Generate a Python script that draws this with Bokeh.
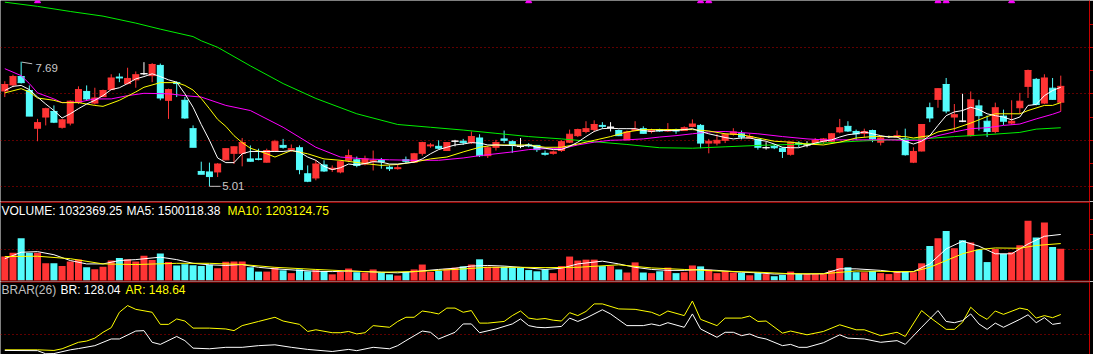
from bokeh.plotting import figure
from bokeh.models import Range1d, ColumnDataSource, Span, Label, LinearAxis, FixedTicker, Grid
from bokeh.layouts import column
from bokeh.embed import file_html
from bokeh.resources import INLINE

# ---------------- data ----------------
opens = [7.06,7.19,7.37,7.07,6.26,6.50,6.62,6.28,6.37,6.82,7.05,6.80,6.94,7.09,7.36,7.22,7.30,7.43,7.39,7.61,
         6.86,7.24,6.86,6.25,5.33,5.32,5.32,5.58,5.72,5.72,5.60,5.60,5.53,5.78,5.89,5.80,5.84,5.28,5.19,5.47,
         5.38,5.32,5.57,5.58,5.49,5.54,5.57,5.42,5.39,5.58,5.53,5.72,5.88,5.87,5.78,5.98,5.98,5.95,6.05,5.67,
         5.85,6.03,5.97,5.873,5.90,5.89,5.72,5.72,5.78,5.96,6.10,6.19,6.23,6.32,6.28,6.21,6.01,6.21,6.25,6.19,
         6.23,6.20,6.23,6.21,6.30,6.32,5.94,5.94,6.00,6.13,6.14,6.05,6.02,5.84,5.87,5.83,5.70,5.94,5.90,5.92,
         5.97,5.98,6.18,6.30,6.19,6.15,6.21,5.96,6.08,6.07,6.03,5.53,5.77,6.70,6.88,7.20,6.50,6.413,6.10,6.74,
         6.41,6.19,6.52,6.37,6.70,7.16,7.31,6.80,7.12,6.82]
highs = [7.27,7.41,7.69,7.18,6.46,6.70,6.75,6.46,6.86,7.16,7.18,7.13,7.09,7.42,7.44,7.56,7.48,7.68,7.66,7.65,
         7.11,7.27,6.93,6.32,5.54,5.52,5.51,5.83,5.87,6.05,5.89,5.82,5.82,6.01,6.03,5.91,5.89,5.46,5.57,5.57,
         5.46,5.57,5.80,5.65,5.67,5.78,5.62,5.46,5.49,5.65,5.73,5.97,5.94,6.00,5.96,6.01,6.03,6.19,6.13,5.87,
         6.01,6.21,6.00,6.05,5.94,5.90,5.78,5.78,6.00,6.23,6.25,6.41,6.43,6.39,6.39,6.23,6.21,6.41,6.30,6.25,
         6.25,6.37,6.25,6.30,6.45,6.35,6.03,6.14,6.15,6.26,6.21,6.14,6.03,5.96,5.92,5.85,5.97,5.98,5.98,6.05,
         6.05,6.15,6.46,6.41,6.23,6.25,6.23,6.10,6.10,6.21,6.25,5.85,6.35,6.81,7.12,7.34,6.78,7.00,7.05,6.87,
         6.53,6.81,6.66,6.86,7.02,7.52,7.34,7.42,7.34,7.39]
lows = [6.93,7.14,7.22,6.52,5.98,6.32,6.37,6.25,6.32,6.78,6.86,6.77,6.93,7.09,7.25,7.20,7.13,7.40,7.25,6.86,
        6.46,6.93,6.46,5.85,5.27,5.01,5.21,5.57,5.49,5.44,5.54,5.57,5.52,5.77,5.82,5.75,5.27,5.10,5.14,5.32,
        5.32,5.29,5.53,5.42,5.46,5.35,5.39,5.34,5.37,5.51,5.52,5.67,5.84,5.81,5.77,5.87,5.90,5.92,5.64,5.62,
        5.78,5.94,5.73,5.83,5.85,5.75,5.67,5.69,5.75,5.94,6.07,6.15,6.18,6.25,6.19,6.09,6.00,6.20,6.14,6.15,
        6.18,6.18,6.14,6.20,6.28,5.83,5.72,5.89,5.94,6.10,6.02,6.03,5.80,5.80,5.81,5.62,5.67,5.85,5.85,5.90,
        5.92,5.96,6.15,6.18,6.01,6.07,5.96,5.89,6.05,6.05,5.67,5.51,5.76,6.39,6.70,6.58,6.18,6.39,6.08,6.21,
        6.07,6.15,6.33,6.34,6.57,6.91,6.75,6.78,6.87,6.62]
closes = [7.20,7.37,7.24,6.52,6.38,6.68,6.39,6.44,6.84,7.09,6.89,6.91,7.07,7.34,7.34,7.33,7.41,7.432,7.63,6.91,
          7.09,7.22,6.48,5.85,5.27,5.22,5.49,5.82,5.86,5.95,5.55,5.59,5.78,5.97,5.85,5.82,5.37,5.12,5.49,5.34,
          5.40,5.54,5.67,5.46,5.60,5.57,5.54,5.39,5.41,5.55,5.71,5.95,5.90,5.83,5.95,5.982,5.95,6.08,5.67,5.84,
          5.95,6.00,5.89,5.87,5.88,5.80,5.70,5.75,5.97,6.13,6.23,6.25,6.34,6.30,6.282,6.10,6.18,6.24,6.15,6.21,
          6.20,6.23,6.20,6.27,6.35,5.94,5.98,6.00,6.13,6.18,6.07,6.08,5.85,5.842,5.84,5.76,5.96,5.91,5.902,6.00,
          6.03,6.14,6.27,6.20,6.14,6.19,6.03,6.05,6.082,6.10,5.69,5.76,6.34,6.48,7.11,6.63,6.55,6.41,6.87,6.53,
          6.19,6.70,6.41,6.41,6.84,7.50,6.77,7.34,6.88,7.16]
volumes = [0.78,0.90,1.38,0.90,0.90,0.56,0.56,0.47,0.62,0.68,0.43,0.37,0.45,0.65,0.73,0.69,0.62,0.81,0.67,0.88,
           0.60,0.49,0.53,0.50,0.47,0.51,0.40,0.61,0.62,0.62,0.43,0.29,0.29,0.42,0.33,0.24,0.36,0.30,0.34,0.31,
           0.20,0.28,0.39,0.27,0.26,0.36,0.27,0.20,0.16,0.28,0.36,0.52,0.28,0.31,0.38,0.42,0.46,0.52,0.69,0.45,
           0.45,0.45,0.43,0.41,0.34,0.30,0.36,0.24,0.47,0.78,0.65,0.68,0.68,0.47,0.47,0.36,0.26,0.59,0.26,0.24,
           0.30,0.42,0.24,0.27,0.49,0.46,0.35,0.24,0.30,0.26,0.25,0.17,0.25,0.21,0.14,0.18,0.29,0.21,0.21,0.21,
           0.21,0.33,0.73,0.43,0.27,0.27,0.31,0.24,0.21,0.30,0.30,0.27,0.56,1.12,1.38,1.61,1.05,1.31,1.24,1.00,
           0.60,1.03,0.86,0.92,1.15,1.95,1.40,1.89,1.09,1.03236925]   # millions

ma5 = [7.07,7.16,7.18,7.09,6.93,6.78,6.64,6.48,6.57,6.68,6.78,6.86,6.96,7.09,7.13,7.22,7.32,7.37,7.43,7.37,
       7.30,7.25,7.00,6.71,6.34,6.00,5.62,5.52,5.52,5.71,5.76,5.76,5.76,5.76,5.76,5.78,5.75,5.64,5.57,5.44,
       5.37,5.41,5.49,5.47,5.50,5.54,5.53,5.49,5.49,5.51,5.53,5.60,5.71,5.80,5.85,5.90,5.92,5.95,5.94,5.90,
       5.90,5.89,5.89,5.87,5.90,5.85,5.83,5.80,5.80,5.87,5.96,6.08,6.19,6.25,6.26,6.25,6.25,6.25,6.21,6.19,
       6.21,6.21,6.21,6.23,6.25,6.19,6.14,6.10,6.06,6.03,6.05,6.05,6.01,5.98,5.92,5.85,5.84,5.84,5.89,5.94,
       5.98,6.01,6.07,6.12,6.14,6.18,6.14,6.10,6.07,6.07,5.98,5.92,5.98,6.10,6.32,6.53,6.61,6.64,6.71,6.66,
       6.57,6.53,6.50,6.44,6.50,6.75,6.77,6.96,7.07,7.14]
ma10_x = [0,2,3,4,6,7,9,11,12,14,16,17,19,21,22,23,24,25,26,27,28,29,30,32,33,35,37,39,41,44,46,48,50,52,54,56,
          58,60,64,66,68,70,72,74,76,78,84,86,88,90,92,94,96,98,100,102,104,106,110,111,113,114,116,118,120,121,
          124,125,127,128,129]
ma10 = [7.02,7.11,7.04,6.91,6.86,6.81,6.81,6.75,6.73,6.86,7.04,7.14,7.24,7.24,7.18,7.08,6.90,6.68,6.45,6.30,6.10,
        5.95,5.83,5.71,5.64,5.78,5.71,5.60,5.57,5.50,5.46,5.48,5.53,5.60,5.64,5.75,5.85,5.90,5.90,5.85,5.85,5.92,
        6.00,6.08,6.18,6.23,6.23,6.20,6.14,6.12,6.05,5.98,5.96,5.92,5.90,5.96,6.05,6.08,6.08,6.05,6.10,6.18,6.25,
        6.37,6.51,6.57,6.57,6.64,6.75,6.75,6.81]
ma20_x = [0,2,3,4,6,7,9,11,13,15,17,20,22,24,27,30,34,38,41,44,47,50,53,56,58,60,62,64,66,68,70,72,74,76,78,80,
          82,84,86,88,92,95,98,100,108,110,112,114,116,118,120,122,124,126,128,129]
ma20 = [7.54,7.39,7.22,7.02,6.89,6.81,6.82,6.89,6.89,6.96,7.01,7.00,6.96,6.93,6.75,6.64,6.28,5.85,5.64,5.60,5.58,
        5.57,5.57,5.62,5.67,5.71,5.75,5.80,5.82,5.82,5.90,5.96,6.00,6.01,6.03,6.07,6.10,6.14,6.18,6.19,6.14,6.08,
        6.03,6.01,6.01,6.00,6.00,6.10,6.18,6.25,6.27,6.32,6.35,6.46,6.56,6.62]
ma60_x = [0,4,8,12,16,19,23,24,26,30,34,38,43,48,52,56,60,64,68,72,76,80,84,88,92,96,100,104,108,112,116,120,124,
          126,129]
ma60 = [8.97,8.88,8.77,8.67,8.52,8.39,8.23,8.14,8.00,7.60,7.22,6.90,6.57,6.34,6.28,6.22,6.15,6.08,6.03,5.97,5.91,
        5.84,5.83,5.86,5.89,5.91,5.94,5.98,6.01,6.03,6.08,6.12,6.17,6.24,6.27]

vma5_x = [0,2,4,6,8,10,12,14,16,19,21,23,25,27,29,31,33,36,38,40,42,44,46,48,50,53,55,57,59,61,63,66,68,70,73,75,
          77,79,81,83,85,87,90,92,94,96,98,100,102,104,107,109,111,113,115,117,119,121,123,125,127,129]
vma5 = [0.71,0.92,0.94,0.84,0.65,0.54,0.54,0.65,0.68,0.76,0.68,0.56,0.51,0.49,0.52,0.43,0.38,0.33,0.30,0.29,0.31,
        0.29,0.27,0.25,0.29,0.36,0.40,0.47,0.49,0.47,0.43,0.36,0.40,0.54,0.63,0.54,0.43,0.36,0.33,0.33,0.36,0.33,
        0.27,0.25,0.21,0.22,0.21,0.22,0.38,0.38,0.33,0.27,0.29,0.54,1.03,1.28,1.12,0.87,0.87,1.19,1.44,1.50011838]
vma10_x = [0,4,8,12,16,21,25,29,33,38,42,46,50,55,59,63,66,70,75,79,83,87,92,96,100,104,109,111,113,115,117,119,
           121,124,126,129]
vma10 = [0.78,0.79,0.71,0.54,0.52,0.56,0.56,0.52,0.43,0.36,0.31,0.27,0.29,0.36,0.43,0.43,0.42,0.43,0.51,0.41,0.36,
         0.31,0.27,0.22,0.22,0.31,0.29,0.29,0.43,0.65,0.87,1.01,1.06,1.05,1.14,1.20312475]

ar_x = [0,4,6,7,9,10,11,12,13,14,15,16,18,19,20,21,22,23,25,27,28,29,31,33,34,36,37,38,40,41,42,43,44,45,47,48,
        49,50,51,52,53,54,55,56,57,58,59,61,62,63,64,65,66,67,68,69,70,71,72,73,75,77,79,80,81,83,84,85,87,88,90,
        91,92,93,95,96,98,100,102,104,105,107,109,110,112,113,115,116,117,118,119,120,121,122,124,125,126,127,
        128,129]
ar = [64,64,62.5,66.5,82,85,92,106,117,154,170,161,154,125,125,138,133,116,116,114,110,122,132,142,133,125,108,
      112,105,105,108,102,105,122,118,132,142,142,157,154,150,164,164,154,158,128,128,132,146,157,140,137,139,135,
      133,153,146,156,174,174,162,161,154,146,157,146,181,137,122,140,140,145,132,133,104,109,100,108,124,112,112,
      98,106,96,158,142,113,113,130,166,148,137,157,149,164,160,140,146,141,148.64]
br_x = [0,4,5,6,8,9,11,12,13,14,16,17,18,19,21,22,23,25,27,29,31,33,35,37,40,42,43,45,47,48,49,51,52,53,55,56,
        57,58,60,62,63,64,65,66,68,69,70,71,73,74,76,78,79,80,81,83,84,85,87,88,89,90,91,92,93,95,96,97,98,100,
        102,103,105,107,109,110,112,114,115,116,117,118,119,120,121,122,124,125,126,127,128,129]
br = [62.5,62,54.5,55,64,67,74,82,90,90,109,110,82,77,96,86,68,66.5,70,70,74,76,70,65,60,65,62,70,66.5,74,86,109,
      106,90,106,126,126,105,114,126,138,122,118,117,120,140,132,140,160,150,122,122,126,122,129,118,150,114,94,
      106,106,98,102,94,90,74,77,70,70,81,100,92,90,82,86,77,118,158,132,129,134,150,126,113,128,118,137,148,129,
      141,125,128.04]

signal_idx = [4, 64, 85, 86, 114, 115, 123]
hi_label = "7.69"
lo_label = "5.01"
vol_title = ["VOLUME: 1032369.25", "MA5: 1500118.38", "MA10: 1203124.75"]
brar_title = ["BRAR(26)", "BR: 128.04", "AR: 148.64"]

# ---------------- style ----------------
RED = "#FF3434"
CYAN = "#54FCFC"
WHITE = "#FFFFFF"
YEL = "#FFFF00"
MAG = "#FF00FF"
GRN = "#00F000"
GRID = "#C00000"
BORDER = "#C80000"
FONT = "Liberation Sans"
W = 1093
N = len(opens)
idx = list(range(N))
VPX = 32570.0  # volume per pixel

xr = Range1d(-0.525, 132.51)


def make_fig(h, yr):
    p = figure(width=W, height=h, x_range=xr, y_range=yr, output_backend="svg",
               toolbar_location=None, tools="", min_border=0, min_border_left=0,
               min_border_right=0, min_border_top=0, min_border_bottom=0,
               x_axis_location=None, y_axis_location=None,
               background_fill_color="black", border_fill_color="black",
               outline_line_color=None)
    p.grid.visible = False
    return p


def add_right_axis(p, ticks):
    ax = LinearAxis(ticker=FixedTicker(ticks=ticks), axis_line_color=BORDER,
                    axis_line_width=1, major_tick_line_color=BORDER,
                    major_tick_out=4, major_tick_in=0, minor_tick_line_color=None,
                    major_label_text_font_size="0px", major_label_standoff=0,
                    major_label_text_alpha=0)
    p.add_layout(ax, "right")


def add_grid(p, ticks):
    p.add_layout(Grid(dimension=1, ticker=FixedTicker(ticks=ticks),
                      grid_line_color=GRID, grid_line_dash="1 3", grid_line_width=1.2))


def candle_color(o, c):
    if abs(c - o) < 0.005:
        return WHITE
    return RED if c > o else CYAN


# ---------------- price panel ----------------
p1 = make_fig(201, Range1d(4.684, 9.006))
add_grid(p1, [5, 6, 7, 8])
add_right_axis(p1, [5.0, 5.5, 6.0, 6.5, 7.0, 7.5, 8.0, 8.5])

src = ColumnDataSource(dict(
    x=idx, o=opens, h=highs, l=lows, c=closes,
    top=[max(o, c) for o, c in zip(opens, closes)],
    bot=[min(o, c) for o, c in zip(opens, closes)],
    x0=[i - 0.43 for i in idx], x1=[i + 0.43 for i in idx],
    col=[candle_color(o, c) for o, c in zip(opens, closes)],
))
p1.segment(x0="x", y0="h", x1="x", y1="l", line_color="col", line_width=1, source=src)
p1.vbar(x="x", width=0.855, top="top", bottom="bot", fill_color="col", line_color=None, source=src)
p1.segment(x0="x0", y0="o", x1="x1", y1="o", line_color="col", line_width=1, source=src)
p1.segment(x0="x0", y0="c", x1="x1", y1="c", line_color="col", line_width=1, source=src)

p1.line(ma60_x, ma60, line_color=GRN, line_width=1)
p1.line(ma20_x, ma20, line_color=MAG, line_width=1)
p1.line(ma10_x, ma10, line_color=YEL, line_width=1)
p1.line(idx, ma5, line_color=WHITE, line_width=1)

top_price = p1.y_range.end
p1.scatter([i for i in signal_idx], [top_price - 0.01] * len(signal_idx),
           marker="triangle", size=6, fill_color=MAG, line_color=MAG)

# extreme labels
i_hi = highs.index(max(highs))
i_lo = lows.index(min(lows))
p1.segment(x0=[i_hi + 0.1], y0=[highs[i_hi] - 0.01], x1=[i_hi + 1.35], y1=[highs[i_hi] - 0.045],
           line_color="#C0C0C0", line_width=1)
p1.add_layout(Label(x=i_hi + 1.75, y=highs[i_hi] - 0.13, text=hi_label, text_baseline="middle",
                    text_align="left", text_color="#C8C8C8", text_font_size="11.5px", text_font=FONT))
p1.segment(x0=[i_lo], y0=[lows[i_lo]], x1=[i_lo + 1.35], y1=[lows[i_lo]],
           line_color="#C0C0C0", line_width=1)
p1.add_layout(Label(x=i_lo + 1.55, y=lows[i_lo], text=lo_label, text_baseline="middle",
                    text_align="left", text_color="#C8C8C8", text_font_size="11.5px", text_font=FONT))

# ---------------- volume panel ----------------
p2 = make_fig(80, Range1d(-VPX, 79 * VPX))
add_grid(p2, [1.0e6])
add_right_axis(p2, [1.0e6, 1.5e6, 2.0e6])
vol = [v * 1e6 for v in volumes]
vcol = [RED if c >= o else CYAN for o, c in zip(opens, closes)]
p2.vbar(x=idx, width=0.855, top=vol, bottom=0, fill_color=vcol, line_color=None)
p2.line(vma5_x, [v * 1e6 for v in vma5], line_color=WHITE, line_width=1)
p2.line(vma10_x, [v * 1e6 for v in vma10], line_color=YEL, line_width=1)
p2.add_layout(Span(location=78.5 * VPX, dimension="width", line_color=BORDER, line_width=1.5))
p2.add_layout(Span(location=-0.5 * VPX, dimension="width", line_color=BORDER, line_width=1))
for txt, xpos, colr in zip(vol_title, [1, 126, 227], [WHITE, WHITE, YEL]):
    p2.add_layout(Label(x=xpos, y=71, x_units="screen", y_units="screen", text=txt,
                        text_baseline="middle", text_color=colr, text_font_size="12px",
                        text_font=FONT))

# ---------------- BRAR panel ----------------
p3 = make_fig(73, Range1d(52.8, 227.7))
add_grid(p3, [100])
add_right_axis(p3, [])
p3.line(ar_x, ar, line_color=YEL, line_width=1)
p3.line(br_x, br, line_color=WHITE, line_width=1)
p3.add_layout(Span(location=227.7 - 1.2, dimension="width", line_color=BORDER, line_width=1))
for txt, xpos, colr in zip(brar_title, [1, 60, 125], ["#C0C0C0", WHITE, YEL]):
    p3.add_layout(Label(x=xpos, y=65, x_units="screen", y_units="screen", text=txt,
                        text_baseline="middle", text_color=colr, text_font_size="12px",
                        text_font=FONT))

layout = column(p1, p2, p3, spacing=0)
open("out.html", "w").write(file_html(layout, INLINE))
